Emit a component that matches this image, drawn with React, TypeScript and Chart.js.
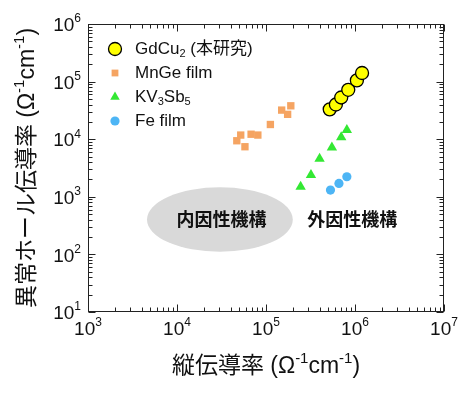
import React, { useEffect, useRef } from 'react';
import { Chart, registerables } from 'chart.js';
import { drawPoint } from 'chart.js/helpers';

Chart.register(...registerables);

// ---- data ----
const xTickExponents = [3, 4, 5, 6, 7];
const yTickExponents = [1, 2, 3, 4, 5, 6];

const gdX = [5.2e5, 6.1e5, 7.0e5, 8.4e5, 1.05e6, 1.2e6];
const gdY = [3.3e4, 4.0e4, 5.3e4, 7.2e4, 1.05e5, 1.41e5];

const mnX = [4.7e4, 5.2e4, 5.8e4, 6.8e4, 8.1e4, 1.12e5, 1.5e5, 1.75e5, 1.9e5];
const mnY = [9.4e3, 1.18e4, 7.4e3, 1.22e4, 1.18e4, 1.8e4, 3.2e4, 2.7e4, 3.8e4];

const kvX = [2.45e5, 3.2e5, 4.0e5, 5.5e5, 7.0e5, 8.1e5];
const kvY = [1.5e3, 2.4e3, 4.6e3, 7.2e3, 1.08e4, 1.45e4];

const feX = [5.3e5, 6.6e5, 8.1e5];
const feY = [1.31e3, 1.71e3, 2.23e3];

type Part = [string, '' | 'sup' | 'sub'];
const legendLabels: Part[][] = [
  [['GdCu', ''], ['2', 'sub'], [' (本研究)', '']],
  [['MnGe film', '']],
  [['KV', ''], ['3', 'sub'], ['Sb', ''], ['5', 'sub']],
  [['Fe film', '']],
];
const xTitle: Part[] = [['縦伝導率 (Ω', ''], ['-1', 'sup'], ['cm', ''], ['-1', 'sup'], [')', '']];
const yTitle: Part[] = [['異常ホール伝導率 (Ω', ''], ['-1', 'sup'], ['cm', ''], ['-1', 'sup'], [')', '']];

const intrinsicLabel = '内因性機構';
const extrinsicLabel = '外因性機構';
// annotation placement in data coordinates
const ellipseXRange = [4.6e3, 2.0e5];
const ellipseYRange = [111, 1460];
const intrinsicAt = [3.16e4, 410];
const extrinsicAt = [2.9e5, 410];

const FONT = '"Liberation Sans", "Noto Sans CJK JP", sans-serif';

function drawRich(ctx: CanvasRenderingContext2D, parts: Part[], x: number, y: number, align: 'left' | 'center' | 'right', size: number) {
  const small = Math.round(size * 0.65);
  const fontFor = (k: string) => `${k ? small : size}px ${FONT}`;
  let total = 0;
  for (const [t, k] of parts) {
    ctx.font = fontFor(k);
    total += ctx.measureText(t).width;
  }
  let cx = align === 'left' ? x : align === 'center' ? x - total / 2 : x - total;
  ctx.textBaseline = 'middle';
  ctx.textAlign = 'left';
  for (const [t, k] of parts) {
    ctx.font = fontFor(k);
    const dy = k === 'sup' ? -size * 0.36 : k === 'sub' ? size * 0.3 : 0;
    ctx.fillText(t, cx, y + dy);
    cx += ctx.measureText(t).width;
  }
}

const decor = {
  id: 'decor',
  beforeDatasetsDraw(chart: any) {
    const { ctx, scales } = chart;
    const xs = scales.x, ys = scales.y;
    ctx.save();
    const l = xs.getPixelForValue(ellipseXRange[0]);
    const r = xs.getPixelForValue(ellipseXRange[1]);
    const b = ys.getPixelForValue(ellipseYRange[0]);
    const t = ys.getPixelForValue(ellipseYRange[1]);
    ctx.fillStyle = '#D9D9D9';
    ctx.beginPath();
    ctx.ellipse((l + r) / 2, (t + b) / 2, (r - l) / 2, (b - t) / 2, 0, 0, Math.PI * 2);
    ctx.fill();
    ctx.fillStyle = '#111';
    ctx.font = `bold 18px "Noto Sans CJK JP", sans-serif`;
    ctx.textBaseline = 'middle';
    ctx.textAlign = 'center';
    ctx.fillText(intrinsicLabel, xs.getPixelForValue(intrinsicAt[0]), ys.getPixelForValue(intrinsicAt[1]));
    ctx.textAlign = 'left';
    ctx.fillText(extrinsicLabel, xs.getPixelForValue(extrinsicAt[0]), ys.getPixelForValue(extrinsicAt[1]));
    ctx.restore();
  },
  afterDraw(chart: any) {
    const { ctx, chartArea: a, scales } = chart;
    const xs = scales.x, ys = scales.y;
    ctx.save();
    ctx.strokeStyle = '#222';
    ctx.lineWidth = 1;
    const L = Math.round(a.left) + 0.5, R = Math.round(a.right) - 0.5;
    const T = Math.round(a.top) + 0.5, B = Math.round(a.bottom) - 0.5;
    ctx.strokeRect(L, T, R - L, B - T);
    ctx.beginPath();
    const xe = xTickExponents, ye = yTickExponents;
    for (let e = xe[0]; e <= xe[xe.length - 1]; e++) {
      for (let m = 1; m <= 9; m++) {
        if (e === xe[xe.length - 1] && m > 1) break;
        const px = Math.round(xs.getPixelForValue(m * Math.pow(10, e))) + 0.5;
        const len = m === 1 ? 7 : 4;
        ctx.moveTo(px, B); ctx.lineTo(px, B - len);
        ctx.moveTo(px, T); ctx.lineTo(px, T + len);
      }
    }
    for (let e = ye[0]; e <= ye[ye.length - 1]; e++) {
      for (let m = 1; m <= 9; m++) {
        if (e === ye[ye.length - 1] && m > 1) break;
        const py = Math.round(ys.getPixelForValue(m * Math.pow(10, e))) + 0.5;
        const len = m === 1 ? 7 : 4;
        ctx.moveTo(L, py); ctx.lineTo(L + len, py);
        ctx.moveTo(R, py); ctx.lineTo(R - len, py);
      }
    }
    ctx.stroke();

    ctx.fillStyle = '#111';
    for (const e of xe) {
      drawRich(ctx, [['10', ''], [String(e), 'sup']], xs.getPixelForValue(Math.pow(10, e)), a.bottom + 18, 'center', 19);
    }
    for (const e of ye) {
      drawRich(ctx, [['10', ''], [String(e), 'sup']], a.left - 7, ys.getPixelForValue(Math.pow(10, e)) + 2, 'right', 19);
    }
    drawRich(ctx, xTitle, (a.left + a.right) / 2, a.bottom + 55, 'center', 23);
    ctx.save();
    ctx.translate(28, (a.top + a.bottom) / 2);
    ctx.rotate(-Math.PI / 2);
    drawRich(ctx, yTitle, 0, 0, 'center', 23);
    ctx.restore();

    // legend
    chart.data.datasets.forEach((ds: any, i: number) => {
      const y = a.top + 25 + i * 24;
      const x = a.left + 27;
      ctx.save();
      ctx.fillStyle = ds.backgroundColor;
      ctx.strokeStyle = ds.borderColor;
      ctx.lineWidth = ds.borderWidth;
      drawPoint(ctx, { pointStyle: ds.pointStyle, radius: ds.legendRadius, borderWidth: ds.borderWidth, rotation: 0 }, x, y);
      ctx.restore();
      ctx.fillStyle = '#111';
      drawRich(ctx, legendLabels[i], a.left + 47, y, 'left', 17);
    });
    ctx.restore();
  },
};

export default function App() {
  const ref = useRef<HTMLCanvasElement>(null);
  useEffect(() => {
    const canvas = ref.current!;
    const pts = (xs: number[], ys: number[]) => xs.map((x, i) => ({ x, y: ys[i] }));
    const chart = new Chart(canvas, {
      type: 'scatter',
      data: {
        datasets: [
          { label: 'GdCu2', data: pts(gdX, gdY), pointStyle: 'circle', pointRadius: 6.5, legendRadius: 6.5, backgroundColor: '#FFFF00', borderColor: '#000000', borderWidth: 1.3 } as any,
          { label: 'MnGe film', data: pts(mnX, mnY), pointStyle: 'rect', pointRadius: 5.2, legendRadius: 4.8, backgroundColor: '#F5A462', borderColor: '#F5A462', borderWidth: 0 } as any,
          { label: 'KV3Sb5', data: pts(kvX, kvY), pointStyle: 'triangle', pointRadius: 6, legendRadius: 5.5, backgroundColor: '#33E833', borderColor: '#33E833', borderWidth: 0 } as any,
          { label: 'Fe film', data: pts(feX, feY), pointStyle: 'circle', pointRadius: 4.6, legendRadius: 4.6, backgroundColor: '#4DB5F5', borderColor: '#4DB5F5', borderWidth: 0 } as any,
        ],
      },
      options: {
        responsive: false,
        animation: false,
        devicePixelRatio: 1,
        layout: { padding: { top: 24, right: 29, left: 0, bottom: 0 } },
        plugins: { legend: { display: false }, tooltip: { enabled: false } },
        scales: {
          x: {
            type: 'logarithmic', min: 1e3, max: 1e7,
            ticks: { display: false }, grid: { display: false }, border: { display: false },
            afterFit: (s: any) => { s.height = 81; },
          },
          y: {
            type: 'logarithmic', min: 10, max: 1e6,
            ticks: { display: false }, grid: { display: false }, border: { display: false },
            afterFit: (s: any) => { s.width = 88; },
          },
        },
      } as any,
      plugins: [decor],
    });
    return () => chart.destroy();
  }, []);
  return (
    <div style={{ position: 'absolute', left: 0, top: 0, width: 473, height: 393, background: '#fff' }}>
      <canvas ref={ref} width={473} height={393} />
    </div>
  );
}
